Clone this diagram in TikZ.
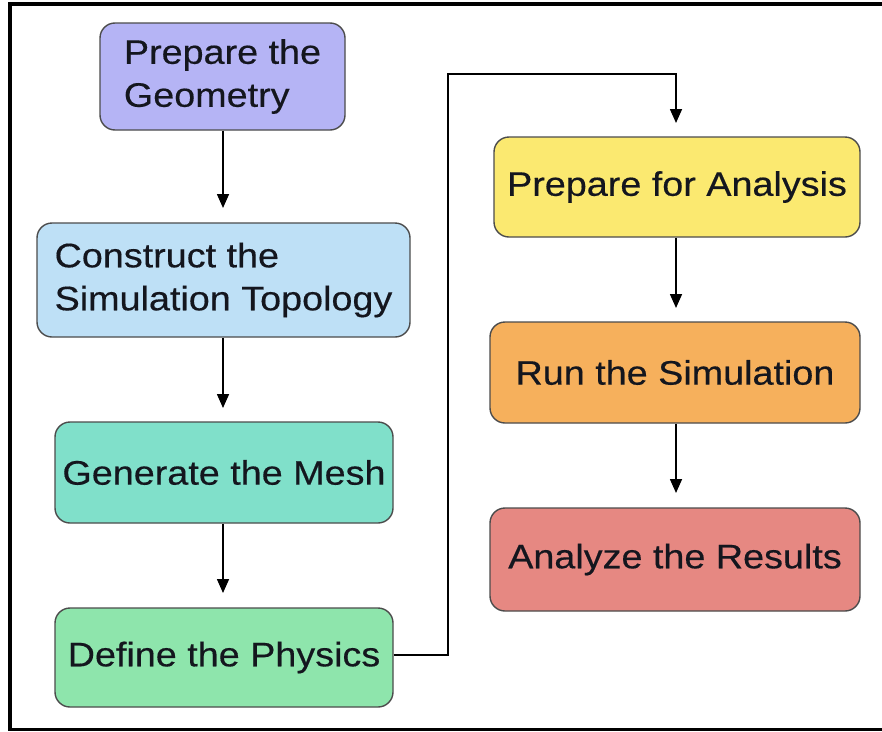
\documentclass[tikz,border=0pt]{standalone}
\usepackage{fontspec}
\setmainfont{Liberation Sans}[FakeStretch=1.11,FakeBold=0.4]
\usetikzlibrary{arrows.meta}
\definecolor{cgeo}{RGB}{181,180,245}
\definecolor{ctop}{RGB}{190,224,246}
\definecolor{cmesh}{RGB}{128,224,202}
\definecolor{cphys}{RGB}{142,229,172}
\definecolor{cprep}{RGB}{251,233,112}
\definecolor{crun}{RGB}{246,176,92}
\definecolor{cres}{RGB}{230,136,130}
\definecolor{txt}{RGB}{20,22,30}
\tikzset{
  box/.style={draw=black!70, line width=1.4pt, rounded corners=15pt, inner sep=0pt,
    font=\fontsize{34}{43}\selectfont, text=txt, align=left},
  flow/.style={line width=1.6pt, draw=black, -{Triangle[length=14pt,width=12pt]}},
  frame/.style={line width=4pt, draw=black}
}
\begin{document}
\begin{tikzpicture}[x=1pt,y=-1pt]
\useasboundingbox (0,0) rectangle (882,731);
\fill[white] (0,0) rectangle (882,731);
% frame
\draw[frame] (10,4) -- (882,4);
\draw[frame] (10,2) -- (10,731);
\draw[line width=3pt] (8,729.5) -- (882,729.5);
% nodes
\node[box, fill=cgeo, minimum width=245pt, minimum height=107pt] (geo) at (222.5,76.5) {Prepare the\\Geometry};
\node[box, fill=ctop, minimum width=373pt, minimum height=114pt] (top) at (223.5,280) {Construct the\\Simulation Topology};
\node[box, fill=cmesh, minimum width=338pt, minimum height=101pt] (mesh) at (224,472.5) {Generate the Mesh};
\node[box, fill=cphys, minimum width=338pt, minimum height=99pt] (phys) at (224,657.5) {Define the Physics};
\node[box, fill=cprep, minimum width=366pt, minimum height=100pt] (prep) at (677,187) {Prepare for Analysis};
\node[box, fill=crun, minimum width=370pt, minimum height=101pt] (run) at (675,372.5) {Run the Simulation};
\node[box, fill=cres, minimum width=370pt, minimum height=103pt] (res) at (675,559.5) {Analyze the Results};
% connectors
\coordinate (turnA) at (448,655);
\coordinate (turnB) at (448,74);
\coordinate (turnC) at (676,74);
\draw[flow] (geo.south -| 223,0) -- (223,208);
\draw[flow] (top.south -| 223,0) -- (223,408);
\draw[flow] (mesh.south -| 223,0) -- (223,593);
\draw[flow] (phys.east |- turnA) -- (turnA) -- (turnB) -- (turnC) -- (676,123);
\draw[flow] (prep.south -| 676,0) -- (676,308);
\draw[flow] (run.south -| 676,0) -- (676,493);
\end{tikzpicture}
\end{document}
